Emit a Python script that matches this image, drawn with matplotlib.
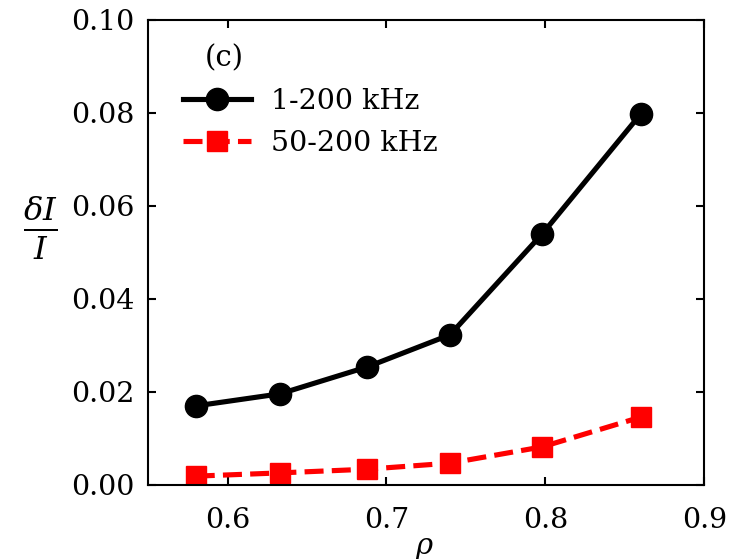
import matplotlib
matplotlib.use("Agg")
import matplotlib.pyplot as plt

rho = [0.580, 0.633, 0.688, 0.740, 0.798, 0.860]
broad = [0.0170, 0.0196, 0.0254, 0.0323, 0.0540, 0.0798]
high = [0.0019, 0.0026, 0.0034, 0.0047, 0.0082, 0.0146]
labels = ["1-200 kHz", "50-200 kHz"]
xticks = [0.6, 0.7, 0.8, 0.9]
yticks = [0.00, 0.02, 0.04, 0.06, 0.08, 0.10]

plt.rcParams['font.family'] = ['DejaVu Serif']
plt.rcParams['mathtext.fontset'] = 'dejavuserif'

fig = plt.figure(figsize=(7.35, 5.59), dpi=100)
ax = fig.add_axes([0.2014, 0.1324, 0.757, 0.832])
ax.plot(rho, broad, '-o', color='black', lw=3.7, ms=16, label=labels[0])
ax.plot(rho, high, '--s', color='red', lw=3.7, ms=15, label=labels[1])
ax.set_xlim(0.55, 0.9)
ax.set_ylim(0, 0.1)
ax.set_xticks(xticks)
ax.set_yticks(yticks)
ax.set_xticklabels([f"{t:.1f}" for t in xticks])
ax.set_yticklabels([f"{t:.2f}" for t in yticks])
ax.tick_params(direction='in', top=True, right=True, length=6, width=1.5,
               labelsize=20.5)
ax.tick_params(axis='y', pad=10)
ax.tick_params(axis='x', pad=16)
for s in ax.spines.values():
    s.set_linewidth(1.5)
ax.set_xlabel(r'$\rho$', fontsize=21)
ax.xaxis.set_label_coords(0.497, -0.105)
ax.set_ylabel(r'$\frac{\delta I}{I}$', fontsize=33, rotation=0, va='center', ha='center')
ax.yaxis.set_label_coords(-0.194, 0.553)
ax.text(0.102, 0.918, '(c)', transform=ax.transAxes, fontsize=21, va='center')
ax.legend(loc='upper left', bbox_to_anchor=(0.063, 0.853), frameon=False,
          fontsize=20.5, handlelength=2.4, handletextpad=0.7, borderpad=0,
          borderaxespad=0, labelspacing=0.5)
fig.savefig('out.png', dpi=100)
